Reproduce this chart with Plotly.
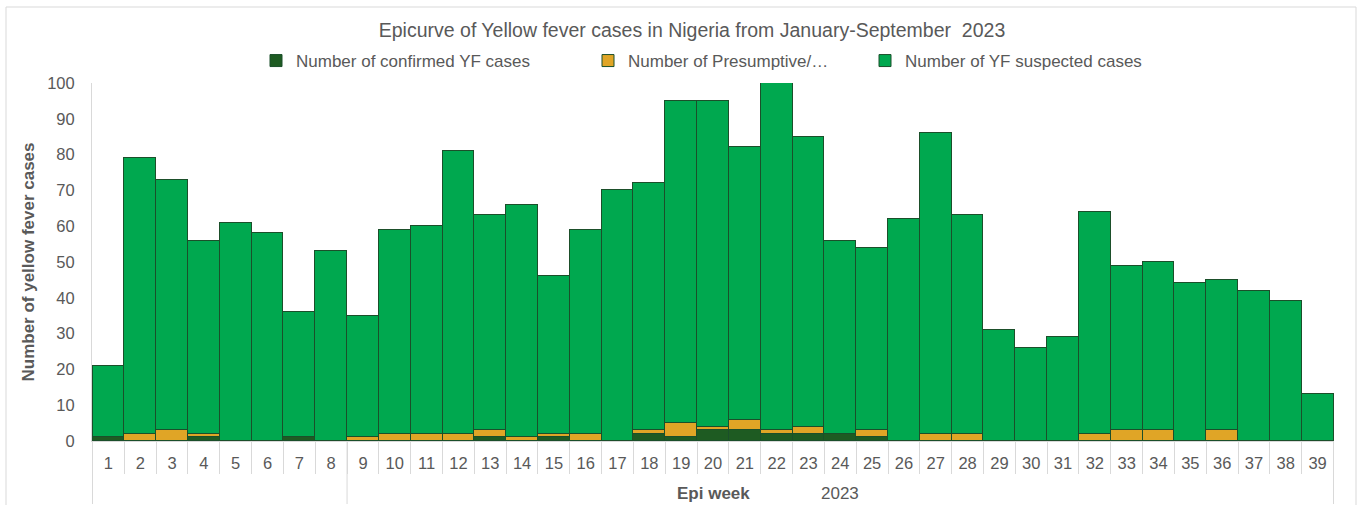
import plotly.graph_objects as go

weeks = [str(w) for w in range(1, 40)]
confirmed = [1, 0, 0, 1, 0, 0, 1, 0, 0, 0, 0, 0, 1, 0, 1, 0, 0, 2, 1, 3,
             3, 2, 2, 2, 1, 0, 0, 0, 0, 0, 0, 0, 0, 0, 0, 0, 0, 0, 0]
presumptive = [0, 2, 3, 1, 0, 0, 0, 0, 1, 2, 2, 2, 2, 1, 1, 2, 0, 1, 4, 1,
               3, 1, 2, 0, 2, 0, 2, 2, 0, 0, 0, 2, 3, 3, 0, 3, 0, 0, 0]
suspected = [20, 77, 70, 54, 61, 58, 35, 53, 34, 57, 58, 79, 60, 65, 44, 57, 70, 69, 90, 91,
             76, 97, 81, 54, 51, 62, 84, 61, 31, 26, 29, 62, 46, 47, 44, 42, 42, 39, 13]
group_label = "2023"
y_ticks = list(range(0, 101, 10))

W, H = 1358, 505
ML, MR, MT, MB = 92, 24, 83, 64
PW, PH = W - ML - MR, H - MT - MB

FONT = "Liberation Sans, Arial, sans-serif"
GRAY = "#595959"
LINE = "#d9d9d9"
EDGE = "#1b4f2a"

fig = go.Figure()
fig.add_trace(go.Bar(x=weeks, y=confirmed, name="Number of confirmed YF cases",
                     marker=dict(color="#1e5b22", line=dict(color=EDGE, width=1)),
                     legend="legend", showlegend=True))
fig.add_trace(go.Bar(x=weeks, y=presumptive, name="Number of Presumptive/…",
                     marker=dict(color="#e0a526", line=dict(color=EDGE, width=1)),
                     legend="legend2", showlegend=True))
fig.add_trace(go.Bar(x=weeks, y=suspected, name="Number of YF suspected cases",
                     marker=dict(color="#00a84f", line=dict(color=EDGE, width=1)),
                     legend="legend3", showlegend=True))

def px_x(p):
    return (p - ML) / PW

def px_y(p):
    return (H - MB - p) / PH

shapes = []
# group separator lines on the category axis
for xb in [-0.5, 7.5, len(weeks) - 0.5]:
    shapes.append(dict(type="line", xref="x", yref="paper", x0=xb, x1=xb,
                       y0=0, y1=px_y(504), line=dict(color=LINE, width=1)))
# chart frame
shapes.append(dict(type="rect", xref="paper", yref="paper", x0=px_x(6), x1=px_x(1356),
                   y0=px_y(506), y1=px_y(7), line=dict(color=LINE, width=1)))

leg_common = dict(orientation="h", xref="container", yref="container", yanchor="middle",
                  xanchor="left", font=dict(family=FONT, size=17, color=GRAY),
                  bgcolor="rgba(0,0,0,0)", y=1 - 61 / H)

fig.update_layout(
    width=W, height=H,
    showlegend=True,
    margin=dict(l=ML, r=MR, t=MT, b=MB, autoexpand=False),
    paper_bgcolor="white", plot_bgcolor="white",
    barmode="stack", bargap=0,
    font=dict(family=FONT, color=GRAY),
    title=dict(text="Epicurve of Yellow fever cases in Nigeria from January-September  2023",
               x=692 / W, xref="container", xanchor="center",
               y=1 - 30 / H, yref="container", yanchor="middle",
               font=dict(family=FONT, size=19.5, color=GRAY)),
    legend=dict(x=256 / W, **leg_common),
    legend2=dict(x=588 / W, **leg_common),
    legend3=dict(x=865 / W, **leg_common),
    xaxis=dict(type="category", showline=True, linecolor=LINE, linewidth=1,
               ticks="outside", tickson="boundaries", ticklen=32, tickcolor=LINE,
               ticklabelstandoff=7,
               tickfont=dict(family=FONT, size=16.5, color=GRAY), showgrid=False),
    yaxis=dict(range=[0, 100], tickvals=y_ticks, showline=True, linecolor=LINE, linewidth=1,
               showgrid=False, zeroline=False, ticks="", ticklabelstandoff=13,
               tickfont=dict(family=FONT, size=16.5, color=GRAY),
               title=dict(text="<b>Number of yellow fever cases</b>", standoff=8,
                          font=dict(family=FONT, size=17, color=GRAY))),
    shapes=shapes,
    annotations=[
        dict(text=group_label, xref="x", yref="paper", x=23, y=px_y(493), showarrow=False,
             xanchor="center", yanchor="middle", font=dict(family=FONT, size=17, color=GRAY)),
        dict(text="<b>Epi week</b>", xref="paper", yref="paper", x=0.5, y=px_y(493),
             showarrow=False, xanchor="center", yanchor="middle",
             font=dict(family=FONT, size=17, color=GRAY)),
    ],
)

fig.write_html("out.html", config={"displayModeBar": False},
               post_script="document.body.style.margin='0';document.body.style.overflow='hidden';")
